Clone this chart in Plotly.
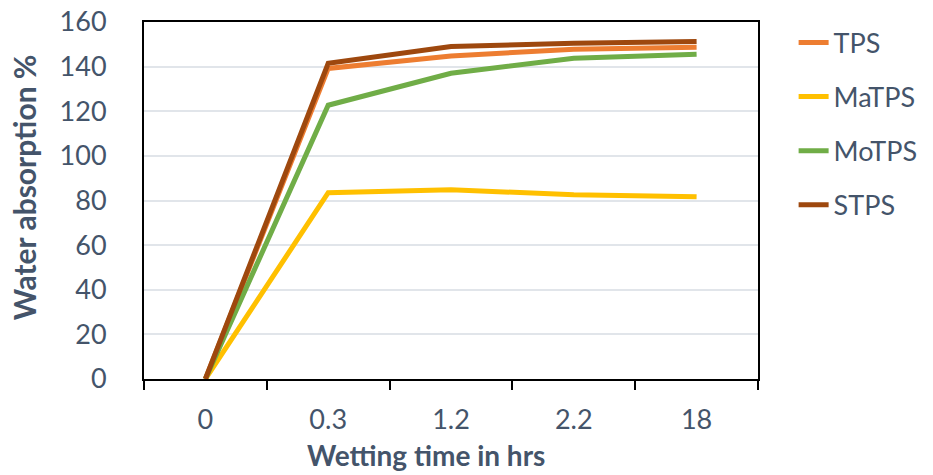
import plotly.graph_objects as go

categories = ["0", "0.3", "1.2", "2.2", "18"]
tps = [0, 139.2, 144.8, 147.8, 148.7]
matps = [0, 83.5, 84.8, 82.6, 81.7]
motps = [0, 122.7, 137.0, 143.8, 145.6]
stps = [0, 141.5, 149.0, 150.5, 151.3]
x_title = "Wetting time in hrs"
y_title = "Water absorption %"

series = [
    ("TPS", tps, "#ED7D31"),
    ("MaTPS", matps, "#FFC000"),
    ("MoTPS", motps, "#70AD47"),
    ("STPS", stps, "#9E480E"),
]

FONT = "Lato"
TXT = "#44546A"
FS = 27
TFS = 30

fig = go.Figure()
for name, vals, col in series:
    fig.add_trace(go.Scatter(
        x=categories, y=vals, name=name, mode="lines",
        line=dict(color=col, width=5), legendgroup=name,
    ))

fig.update_layout(
    width=933, height=475,
    margin=dict(l=144, r=175, t=22, b=96, autoexpand=False),
    paper_bgcolor="white", plot_bgcolor="white",
    font=dict(family=FONT, size=FS, color=TXT),
    legend=dict(
        x=1.058, y=1.01, xanchor="left", yanchor="top",
        font=dict(family=FONT, size=FS, color=TXT),
        tracegroupgap=16, bgcolor="rgba(0,0,0,0)",
    ),
    showlegend=True,
    annotations=[
        dict(text="<b>" + x_title + "</b>", xref="paper", yref="paper",
             x=0.459, y=-0.212, xanchor="center", yanchor="middle",
             showarrow=False, font=dict(family=FONT, size=28, color=TXT)),
        dict(text="<b>" + y_title + "</b>", xref="paper", yref="paper",
             x=-0.195, y=0.538, xanchor="center", yanchor="middle",
             textangle=-90, showarrow=False,
             font=dict(family=FONT, size=TFS, color=TXT)),
    ],
)
fig.update_xaxes(
    type="category", range=[-0.5, 4.5], automargin=False,
    tickson="boundaries", ticks="outside", ticklen=9,
    tickwidth=2, tickcolor="black",
    showline=True, linecolor="black", linewidth=2, mirror=True,
    showgrid=False, ticklabelstandoff=16,
    tickfont=dict(family=FONT, size=FS, color=TXT),
)
fig.update_yaxes(
    range=[0, 160], dtick=20, ticks="", automargin=False,
    showline=True, linecolor="black", linewidth=2, mirror=True,
    showgrid=True, gridcolor="#E1E5EA", gridwidth=1.5,
    ticklabelstandoff=30, zeroline=False,
    tickfont=dict(family=FONT, size=FS, color=TXT),
)

fig.write_html("out.html")
